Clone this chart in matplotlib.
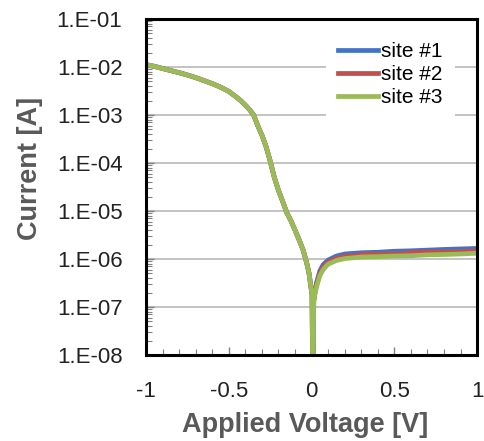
import math
import matplotlib.pyplot as plt
from matplotlib.ticker import FixedLocator, FuncFormatter, MultipleLocator, LogLocator, NullFormatter

plt.rcParams['font.family'] = ['Liberation Sans', 'DejaVu Sans']

# applied voltage [V]
voltage = [-1.0, -0.95, -0.9, -0.85, -0.8, -0.75, -0.7, -0.65, -0.6, -0.55, -0.5,
           -0.45, -0.425, -0.4, -0.375, -0.35, -0.325, -0.3, -0.275, -0.25, -0.225,
           -0.2, -0.175, -0.15, -0.125, -0.1, -0.075, -0.05, -0.03, -0.015, -0.005,
           0.003, 0.008,
           0.013, 0.02, 0.03, 0.05, 0.07, 0.1, 0.15, 0.2,
           0.3, 0.4, 0.5, 0.6, 0.7, 0.8, 0.9, 1.0]

# reverse branch (all three sites overlap)
rev = [1.12e-2, 1.03e-2, 9.3e-3, 8.4e-3, 7.6e-3, 6.8e-3, 6.0e-3, 5.2e-3, 4.5e-3, 3.8e-3, 3.1e-3,
       2.3e-3, 1.95e-3, 1.6e-3, 1.3e-3, 1.0e-3, 6.0e-4, 3.8e-4, 2.2e-4, 1.1e-4, 5.0e-5,
       2.7e-5, 1.6e-5, 9.3e-6, 6.3e-6, 4.0e-6, 2.5e-6, 1.5e-6, 8.5e-7, 5.0e-7, 2.8e-7,
       1.8e-7, 1.0e-9]

site1 = rev + [1.4e-7, 2.1e-7, 3.2e-7, 5.6e-7, 7.6e-7, 9.5e-7, 1.15e-6, 1.27e-6,
               1.35e-6, 1.38e-6, 1.45e-6, 1.48e-6, 1.53e-6, 1.58e-6, 1.62e-6, 1.66e-6]
site2 = rev + [1.32e-7, 1.95e-7, 2.9e-7, 5.1e-7, 6.8e-7, 8.6e-7, 1.04e-6, 1.14e-6,
               1.23e-6, 1.26e-6, 1.30e-6, 1.35e-6, 1.38e-6, 1.41e-6, 1.45e-6, 1.48e-6]
site3 = rev + [1.25e-7, 1.8e-7, 2.6e-7, 4.5e-7, 6.0e-7, 7.8e-7, 9.3e-7, 1.02e-6,
               1.10e-6, 1.12e-6, 1.15e-6, 1.17e-6, 1.22e-6, 1.24e-6, 1.27e-6, 1.32e-6]

labels = ["site #1", "site #2", "site #3"]
colors = ["#4472C4", "#C0504D", "#9BBB59"]

fig = plt.figure(figsize=(4.84, 4.41), dpi=100)
ax = fig.add_axes([0.3017, 0.195, 0.684, 0.762])

for ys, lab, c in zip([site1, site2, site3], labels, colors):
    ax.plot(voltage, ys, color=c, lw=3.4, label=lab, solid_joinstyle='round')

ax.set_yscale('log')
ax.set_ylim(1e-8, 1e-1)
ax.set_xlim(-1, 1)

ax.yaxis.set_major_locator(FixedLocator([10.0 ** e for e in range(-8, 0)]))
ax.yaxis.set_major_formatter(FuncFormatter(lambda v, p: "1.E-%02d" % round(-math.log10(v))))
ax.yaxis.set_minor_locator(LogLocator(base=10, subs=range(2, 10), numticks=20))
ax.yaxis.set_minor_formatter(NullFormatter())
ax.set_xticks([-1, -0.5, 0, 0.5, 1])
ax.set_xticklabels(["-1", "-0.5", "0", "0.5", "1"])
ax.xaxis.set_minor_locator(MultipleLocator(0.1))

ax.grid(axis='y', which='major', color='#b3b3b3', lw=1.1)
ax.set_axisbelow(True)

ax.tick_params(which='both', direction='in', color='#808080', top=False, right=False)
ax.tick_params(which='major', length=6, width=1)
ax.tick_params(which='minor', length=4, width=0.8)
ax.tick_params(axis='y', which='major', pad=17, labelsize=16, labelcolor='#222222')
ax.tick_params(axis='x', which='major', pad=19, labelsize=16, labelcolor='#222222')

for s in ax.spines.values():
    s.set_linewidth(2.2)
    s.set_color('black')

ax.set_xlabel("Applied Voltage [V]", fontsize=19.5, fontweight='bold', color='#595959')
ax.set_ylabel("Current [A]", fontsize=19.5, fontweight='bold', color='#595959')
ax.xaxis.set_label_coords(0.48, -0.17)
ax.yaxis.set_label_coords(-0.31, 0.556)

leg = ax.legend(loc='upper right', bbox_to_anchor=(0.964, 1.0), fontsize=15,
                handlelength=1.9, handletextpad=0.15, labelspacing=0.2,
                borderpad=0.6, frameon=True, fancybox=False)
leg.get_frame().set_edgecolor('none')
leg.get_frame().set_facecolor('white')
leg.get_frame().set_alpha(1)

fig.savefig("out.png", dpi=100)
